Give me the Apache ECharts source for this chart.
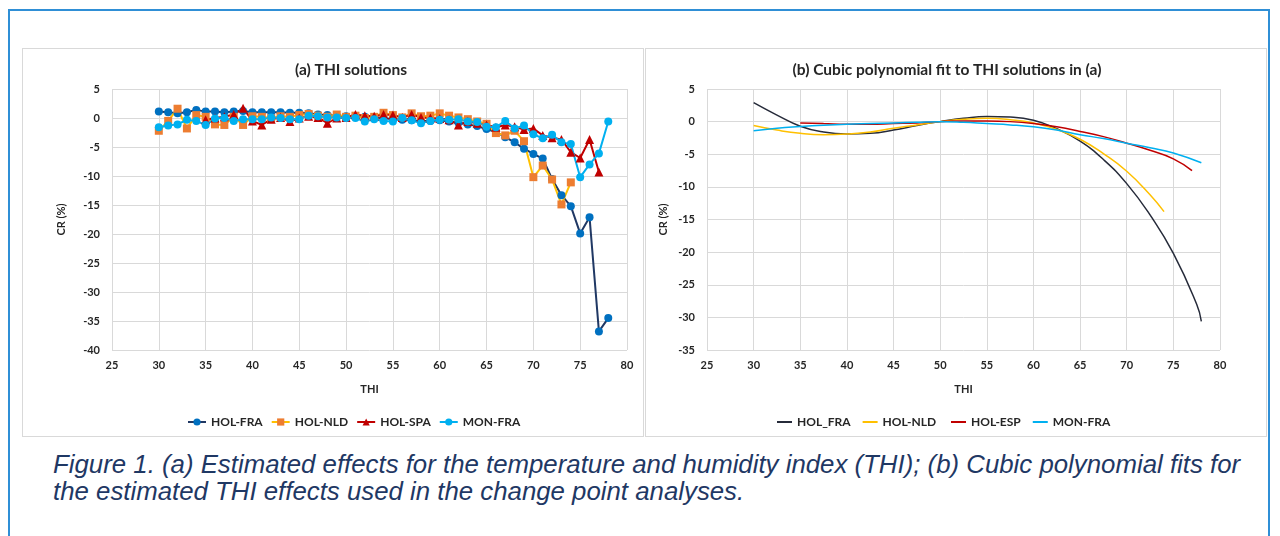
<!DOCTYPE html>
<html>
<head>
<meta charset="utf-8">
<script src="https://cdn.jsdelivr.net/npm/echarts@6/dist/echarts.min.js"></script>
<style>
  body { margin: 0; width: 1280px; height: 536px; background: #fff; overflow: hidden; position: relative; }
  .frame { position: absolute; left: 8px; top: 9px; width: 1262px; height: 540px; border: 2px solid #2f8fd6; box-sizing: border-box; }
  .panel { position: absolute; top: 48px; height: 389px; border: 1px solid #d9d9d9; box-sizing: border-box; }
  .caption { position: absolute; left: 53px; top: 451px; width: 1212px; font-family: 'Liberation Sans', Arial, sans-serif;
    font-style: italic; font-size: 25.8px; line-height: 27px; color: #1f3864; }
  #chart { position: absolute; left: 0; top: 0; width: 1280px; height: 536px; }
</style>
</head>
<body>
<div class="frame"></div>
<div class="panel" style="left: 22px; width: 622px;"></div>
<div class="panel" style="left: 645px; width: 622px;"></div>
<div class="caption">Figure 1. (a) Estimated effects for the temperature and humidity index (THI); (b) Cubic polynomial fits for the estimated THI effects used in the change point analyses.</div>
<div id="chart"></div>
<script>
// (a) THI solutions - one value per THI unit
var thiFull = [30, 31, 32, 33, 34, 35, 36, 37, 38, 39, 40, 41, 42, 43, 44, 45, 46, 47, 48, 49,
  50, 51, 52, 53, 54, 55, 56, 57, 58, 59, 60, 61, 62, 63, 64, 65, 66, 67, 68, 69,
  70, 71, 72, 73, 74, 75, 76, 77, 78]
var holFra = [1.1, 1.0, 0.8, 1.0, 1.4, 1.1, 1.1, 1.0, 1.1, 1.2, 1.0, 1.0, 1.0, 1.0, 0.9, 0.9, 0.8, 0.6, 0.5, 0.4,
  0.3, 0.3, 0.2, 0.1, 0.0, -0.2, -0.3, -0.4, -0.5, -0.5, -0.4, -0.6, -0.8, -1.1, -1.4, -1.9, -2.4, -3.3, -4.2, -5.3,
  -6.2, -7.0, -10.5, -13.3, -15.2, -19.9, -17.1, -36.8, -34.5]
var monFra = [-1.6, -1.3, -1.1, -0.3, -0.5, -1.2, -0.1, 0.0, -0.5, -0.2, -0.2, -0.2, 0.1, 0.0, -0.2, -0.2, 0.4, 0.3, 0.1, 0.1,
  0.0, 0.0, -0.6, -0.2, -0.5, -0.6, 0.0, -0.4, -0.9, -0.5, -0.3, -0.3, -0.2, -0.6, -0.7, -1.5, -1.6, -0.5, -1.8, -1.3,
  -2.8, -3.5, -2.9, -4.2, -4.5, -10.2, -8.0, -6.1, -0.6]
// HOL-NLD runs 30..74
var holNld = [-2.2, -0.5, 1.6, -1.8, 0.5, 0.2, -1.1, -1.2, 0.2, -1.2, 0.3, 0.2, 0.0, 0.3, 0.2, 0.5, 0.7, 0.4, 0.2, 0.6,
  0.2, 0.4, 0.0, 0.2, 0.9, 0.5, 0.1, 0.8, 0.3, 0.4, 0.8, 0.4, 0.1, -0.2, -0.6, -1.0, -2.6, -3.0, -2.2, -4.0,
  -10.2, -8.2, -10.6, -14.9, -11.1]
// HOL-SPA runs 35..77
var holSpa = [-0.3, 0.0, 0.2, 0.6, 1.7, -0.5, -1.2, -0.2, 0.1, -0.6, 0.0, 0.3, 0.1, -0.9, 0.0,
  0.1, 0.6, 0.4, 0.3, 0.6, 0.5, 0.1, 0.6, 0.1, 0.0, -0.1, -0.3, -1.2, -0.6, -0.9, -1.2, -1.6, -1.2, -1.5, -2.0,
  -1.8, -3.0, -3.4, -3.7, -5.9, -6.9, -3.7, -9.3]

// (b) cubic fits
var fitFraX = [30, 32.5, 35, 37.5, 40, 42.5, 45, 47.5, 50, 52.5, 55, 57.5, 60, 62.5, 65, 67.5, 70, 72.5, 75, 77.5, 78]
var fitFraY = [2.9, 1.0, -0.7, -1.6, -1.9, -1.8, -1.3, -0.6, 0, 0.5, 0.8, 0.7, 0.2, -1.1, -3.0, -5.8, -9.5, -14.3, -20.2, -28.0, -30.6]
var fitNldX = [30, 32.5, 35, 37.5, 40, 42.5, 45, 47.5, 50, 52.5, 55, 57.5, 60, 62.5, 65, 67.5, 70, 72.5, 74]
var fitNldY = [-0.6, -1.3, -1.8, -2.0, -1.9, -1.6, -1.0, -0.5, 0, 0.35, 0.5, 0.3, -0.2, -1.2, -2.7, -4.9, -7.6, -11.2, -13.8]
var fitEspX = [35, 37.5, 40, 42.5, 45, 47.5, 50, 52.5, 55, 57.5, 60, 62.5, 65, 67.5, 70, 72.5, 75, 77]
var fitEspY = [-0.2, -0.3, -0.4, -0.4, -0.3, -0.2, 0, 0.1, 0.1, 0, -0.3, -0.8, -1.5, -2.3, -3.3, -4.4, -5.7, -7.5]
var fitMonX = [30, 32.5, 35, 37.5, 40, 42.5, 45, 47.5, 50, 52.5, 55, 57.5, 60, 62.5, 65, 67.5, 70, 72.5, 75, 78]
var fitMonY = [-1.4, -1.0, -0.75, -0.55, -0.4, -0.3, -0.2, -0.1, 0, -0.1, -0.3, -0.5, -0.8, -1.3, -2.0, -2.6, -3.3, -4.0, -4.8, -6.3]

function pairs (xs, ys, start) {
  var out = []
  for (var i = 0; i < ys.length; i++) {
    out.push([xs[i + start], ys[i]])
  }
  return out
}

var font = 'Lato, "Open Sans", sans-serif'
var labelStyle = { color: '#262626', fontWeight: 'bold', fontSize: 11, fontFamily: font }
var legendText = { color: '#262626', fontWeight: 'bold', fontSize: 12, fontFamily: font }
var titleText = { fontSize: 15.5, fontWeight: 'bold', color: '#262626', fontFamily: font }
var gridLine = { show: true, lineStyle: { color: '#d9d9d9', width: 1 } }

function xAxisFor (idx) {
  return {
    gridIndex: idx, type: 'value', min: 25, max: 80, interval: 5,
    axisLine: { show: false }, axisTick: { show: false }, splitLine: gridLine,
    axisLabel: Object.assign({ margin: 10 }, labelStyle),
    name: 'THI', nameLocation: 'middle', nameGap: 34, nameTextStyle: labelStyle
  }
}
function yAxisFor (idx, min, gap) {
  return {
    gridIndex: idx, type: 'value', min: min, max: 5, interval: 5,
    axisLine: { show: false }, axisTick: { show: false }, splitLine: gridLine,
    axisLabel: Object.assign({ margin: 12 }, labelStyle),
    name: 'CR (%)', nameLocation: 'middle', nameGap: gap, nameTextStyle: labelStyle
  }
}

var myChart = echarts.init(document.getElementById('chart'))
myChart.setOption({
  animation: false,
  title: [
    { text: '(a) THI solutions', left: 346, top: 57, textAlign: 'center', textStyle: titleText },
    { text: '(b) Cubic polynomial fit to THI solutions in (a)', left: 942, top: 57, textAlign: 'center', textStyle: titleText }
  ],
  grid: [
    { left: 112, top: 89, width: 515, height: 261 },
    { left: 707, top: 89, width: 513, height: 261 }
  ],
  legend: [
    {
      left: 182, top: 411, itemGap: 8, itemWidth: 18, itemHeight: 9,
      textStyle: legendText,
      data: ['HOL-FRA', 'HOL-NLD', 'HOL-SPA', 'MON-FRA']
    },
    {
      left: 771, top: 411, itemGap: 11, itemWidth: 15, itemHeight: 2,
      textStyle: legendText,
      data: ['HOL_FRA', 'HOL-NLD ', 'HOL-ESP', 'MON-FRA ']
    }
  ],
  xAxis: [xAxisFor(0), xAxisFor(1)],
  yAxis: [yAxisFor(0, -40, 45), yAxisFor(1, -35, 38)],
  series: [
    {
      name: 'HOL-FRA', type: 'line', xAxisIndex: 0, yAxisIndex: 0,
      data: pairs(thiFull, holFra, 0),
      symbol: 'circle', symbolSize: 8,
      itemStyle: { color: '#0070c0' }, lineStyle: { color: '#203864', width: 2 }
    },
    {
      name: 'HOL-NLD', type: 'line', xAxisIndex: 0, yAxisIndex: 0,
      data: pairs(thiFull, holNld, 0),
      symbol: 'rect', symbolSize: 8,
      itemStyle: { color: '#ed7d31' }, lineStyle: { color: '#ffc000', width: 2 }
    },
    {
      name: 'HOL-SPA', type: 'line', xAxisIndex: 0, yAxisIndex: 0,
      data: pairs(thiFull, holSpa, 5),
      symbol: 'triangle', symbolSize: 9,
      itemStyle: { color: '#c00000' }, lineStyle: { color: '#c00000', width: 2 }
    },
    {
      name: 'MON-FRA', type: 'line', xAxisIndex: 0, yAxisIndex: 0,
      data: pairs(thiFull, monFra, 0),
      symbol: 'circle', symbolSize: 8,
      itemStyle: { color: '#00b0f0' }, lineStyle: { color: '#00b0f0', width: 2 }
    },
    {
      name: 'HOL_FRA', type: 'line', xAxisIndex: 1, yAxisIndex: 1, smooth: true, symbol: 'none',
      data: pairs(fitFraX, fitFraY, 0),
      itemStyle: { color: '#262b3a' }, lineStyle: { color: '#262b3a', width: 1.5 }
    },
    {
      name: 'HOL-NLD ', type: 'line', xAxisIndex: 1, yAxisIndex: 1, smooth: true, symbol: 'none',
      data: pairs(fitNldX, fitNldY, 0),
      itemStyle: { color: '#ffc000' }, lineStyle: { color: '#ffc000', width: 1.5 }
    },
    {
      name: 'HOL-ESP', type: 'line', xAxisIndex: 1, yAxisIndex: 1, smooth: true, symbol: 'none',
      data: pairs(fitEspX, fitEspY, 0),
      itemStyle: { color: '#c00000' }, lineStyle: { color: '#c00000', width: 1.5 }
    },
    {
      name: 'MON-FRA ', type: 'line', xAxisIndex: 1, yAxisIndex: 1, smooth: true, symbol: 'none',
      data: pairs(fitMonX, fitMonY, 0),
      itemStyle: { color: '#00b0f0' }, lineStyle: { color: '#00b0f0', width: 1.5 }
    }
  ]
})
</script>
</body>
</html>
